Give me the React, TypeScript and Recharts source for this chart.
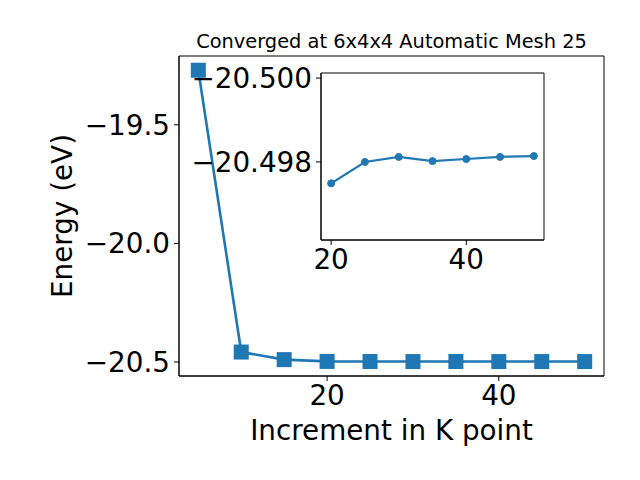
import React from 'react';
import { LineChart, Line, XAxis, YAxis, ReferenceArea } from 'recharts';

const kPoints = [5, 10, 15, 20, 25, 30, 35, 40, 45, 50];
const energies = [-19.27, -20.458, -20.49, -20.4975, -20.498, -20.4981, -20.498, -20.4981, -20.4981, -20.4981];

const insetPoints = [20, 25, 30, 35, 40, 45, 50];
const insetEnergies = [-20.49749, -20.4980, -20.49812, -20.49802, -20.49807, -20.49812, -20.49814];

const mainXTicks = [20, 40];
const mainYTicks = [-20.5, -20.0, -19.5];
const insetXTicks = [20, 40];
const insetYTicks = [-20.5, -20.498];

const BLUE = '#1f77b4';
const FONT = 'DejaVu Sans, sans-serif';

const mainData = kPoints.map((k, i) => ({ k, e: energies[i] }));
const insetData = insetPoints.map((k, i) => ({ k, e: insetEnergies[i] }));

const minus = (s: string) => s.replace('-', '\u2212');

const tickStyle = { fontSize: 27.8, fill: '#000', fontFamily: FONT };

const SquareDot = (props: any) => {
  const { cx, cy, index } = props;
  if (cx == null || cy == null) return null;
  return <rect key={`sq-${index}`} x={cx - 7.5} y={cy - 7.5} width={15} height={15} fill={BLUE} />;
};

export default function App() {
  return (
    <div style={{ position: 'fixed', left: 0, top: 0, width: 640, height: 480, background: '#fff', fontFamily: FONT }}>
      <div style={{ position: 'absolute', left: 0, top: 0 }}>
        <LineChart width={640} height={480} data={mainData} margin={{ top: 56, right: 36, bottom: 0, left: 0 }}>
          <XAxis
            dataKey="k"
            type="number"
            domain={[2.75, 52.25]}
            ticks={mainXTicks}
            height={104}
            tick={tickStyle}
            tickSize={5}
            tickMargin={4}
            stroke="#000"
            allowDataOverflow
          />
          <YAxis
            type="number"
            domain={[-20.559, -19.21]}
            ticks={mainYTicks}
            width={179}
            tick={tickStyle}
            tickSize={5}
            tickMargin={4}
            tickFormatter={(v: number) => minus(v.toFixed(1))}
            stroke="#000"
            allowDataOverflow
          />
          <ReferenceArea x1={2.75} x2={52.25} y1={-20.559} y2={-19.21} fill="none" stroke="#000" strokeWidth={1} fillOpacity={0} ifOverflow="visible" />
          <Line dataKey="e" stroke={BLUE} strokeWidth={2.6} dot={SquareDot} activeDot={false} isAnimationActive={false} />
        </LineChart>
      </div>
      <div style={{ position: 'absolute', left: 321, top: 73, width: 223, height: 167, background: '#fff' }} />
      <div style={{ position: 'absolute', left: 0, top: 0 }}>
        <LineChart width={640} height={480} data={insetData} margin={{ top: 73, right: 96, bottom: 0, left: 0 }}>
          <XAxis
            dataKey="k"
            type="number"
            domain={[18.5, 51.5]}
            ticks={insetXTicks}
            height={240}
            tick={tickStyle}
            tickSize={5}
            tickMargin={4}
            stroke="#000"
            allowDataOverflow
          />
          <YAxis
            type="number"
            domain={[-20.50012, -20.49614]}
            reversed
            ticks={insetYTicks}
            width={321}
            tick={tickStyle}
            tickSize={5}
            tickMargin={4}
            tickFormatter={(v: number) => minus(v.toFixed(3))}
            stroke="#000"
            allowDataOverflow
          />
          <ReferenceArea x1={18.5} x2={51.5} y1={-20.50012} y2={-20.49614} fill="none" fillOpacity={0} stroke="#000" strokeWidth={1} ifOverflow="visible" />
          <Line dataKey="e" stroke={BLUE} strokeWidth={2.2} dot={{ r: 3.5, fill: BLUE, stroke: BLUE, strokeWidth: 1 }} activeDot={false} isAnimationActive={false} />
        </LineChart>
      </div>
      <div style={{ position: 'absolute', left: 179, width: 425, top: 30, textAlign: 'center', fontSize: 19.4, color: '#000', lineHeight: '24px' }}>
        Converged at 6x4x4 Automatic Mesh 25
      </div>
      <div style={{ position: 'absolute', left: 179, width: 425, top: 414, textAlign: 'center', fontSize: 27.8, color: '#000', lineHeight: '34px' }}>
        Increment in K point
      </div>
      <div style={{ position: 'absolute', left: 63, top: 216, transform: 'translate(-50%, -50%) rotate(-90deg)', fontSize: 27.8, color: '#000', whiteSpace: 'nowrap', lineHeight: '34px' }}>
        Energy (eV)
      </div>
    </div>
  );
}
